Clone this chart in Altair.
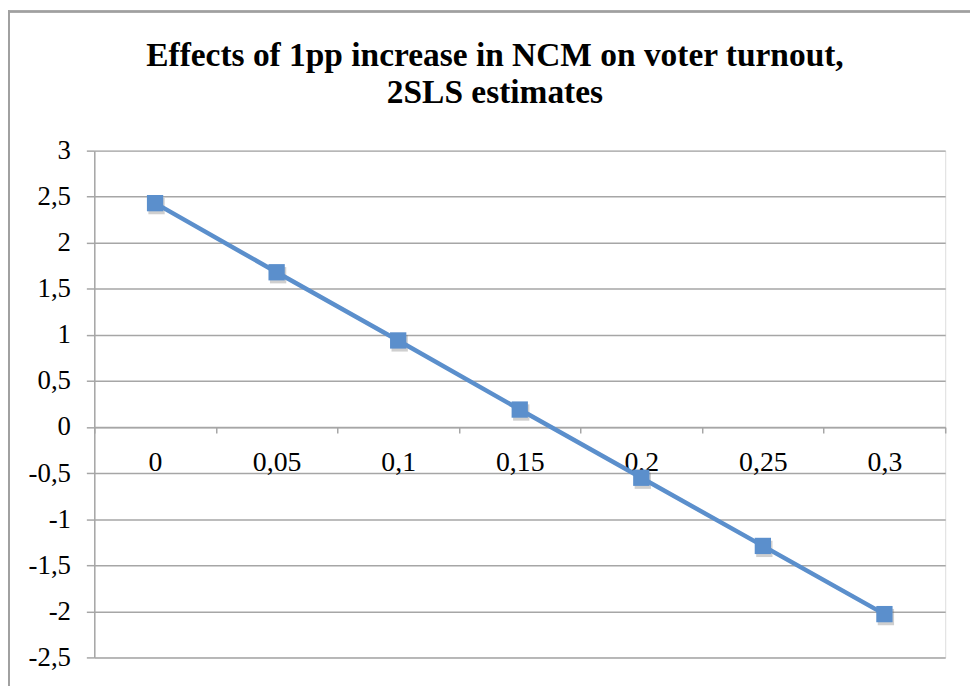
import altair as alt
import pandas as pd

# Data
categories = ["0", "0,05", "0,1", "0,15", "0,2", "0,25", "0,3"]
effects = [2.43, 1.68, 0.94, 0.19, -0.55, -1.29, -2.03]

df = pd.DataFrame({"share": categories, "effect": effects})

W, H = 858, 511
GRID = "#a6a6a6"
BLUE = "#5b8fcc"
SERIF = "Liberation Serif"

y_min, y_max = -2.5, 3.0
zero_offset = -(H - H * (y_max - 0) / (y_max - y_min))

x_enc = alt.X(
    "share:N",
    sort=categories,
    scale=alt.Scale(paddingInner=0, paddingOuter=0),
    axis=alt.Axis(
        title=None,
        orient="bottom",
        offset=zero_offset,
        labelAngle=0,
        labelFont=SERIF,
        labelFontSize=28,
        labelColor="black",
        labelPadding=16,
        tickBand="extent",
        tickSize=6,
        tickColor=GRID,
        tickWidth=1.5,
        domainColor=GRID,
        domainWidth=1.5,
        grid=False,
    ),
)

y_enc = alt.Y(
    "effect:Q",
    scale=alt.Scale(domain=[y_min, y_max], nice=False, zero=False),
    axis=alt.Axis(
        title=None,
        values=[-2.5, -2, -1.5, -1, -0.5, 0, 0.5, 1, 1.5, 2, 2.5, 3],
        labelExpr="(datum.value < 0 ? '-' : '') + replace('' + abs(datum.value), '.', ',')",
        labelFont=SERIF,
        labelFontSize=27,
        labelColor="black",
        labelPadding=16,
        tickSize=8,
        tickColor=GRID,
        tickWidth=1.5,
        domainColor=GRID,
        domainWidth=1.5,
        grid=True,
        gridColor=GRID,
        gridWidth=1.5,
    ),
)

base = alt.Chart(df).encode(x=x_enc, y=y_enc)

shadow = base.mark_point(
    shape="square", filled=True, size=270, color="#606060", opacity=0.3,
    xOffset=1.5, yOffset=3,
)
line = base.mark_line(color=BLUE, strokeWidth=4.5)
points = base.mark_point(shape="square", filled=True, size=270, color=BLUE, opacity=1)

# chart-area border (left and top edges visible in the reference)
border_left = alt.Chart(df).mark_rule(color="#a0a0a0", strokeWidth=1.5).encode(
    x=alt.value(-86.25), y=alt.value(-141), y2=alt.value(H + 40)
)
border_top = alt.Chart(df).mark_rule(color="#a0a0a0", strokeWidth=1.5).encode(
    x=alt.value(-87), x2=alt.value(W + 40), y=alt.value(-140.25)
)

chart = (
    alt.layer(shadow, line, points, border_left, border_top)
    .properties(
        width=W,
        height=H,
        title=alt.TitleParams(
            text=["Effects of 1pp increase in NCM on voter turnout,", "2SLS estimates"],
            font=SERIF,
            fontSize=33.7,
            fontWeight="bold",
            color="black",
            anchor="middle",
            frame="group",
            lineHeight=37,
            offset=-100,
            dx=-25,
        ),
        padding={"left": 87, "top": 141, "right": 25, "bottom": 26},
        autosize=alt.AutoSizeParams(type="none"),
    )
    .configure_view(stroke=None)
    .configure(background="white")
)

chart.save("out.html", embed_options={"renderer": "svg", "actions": False})
